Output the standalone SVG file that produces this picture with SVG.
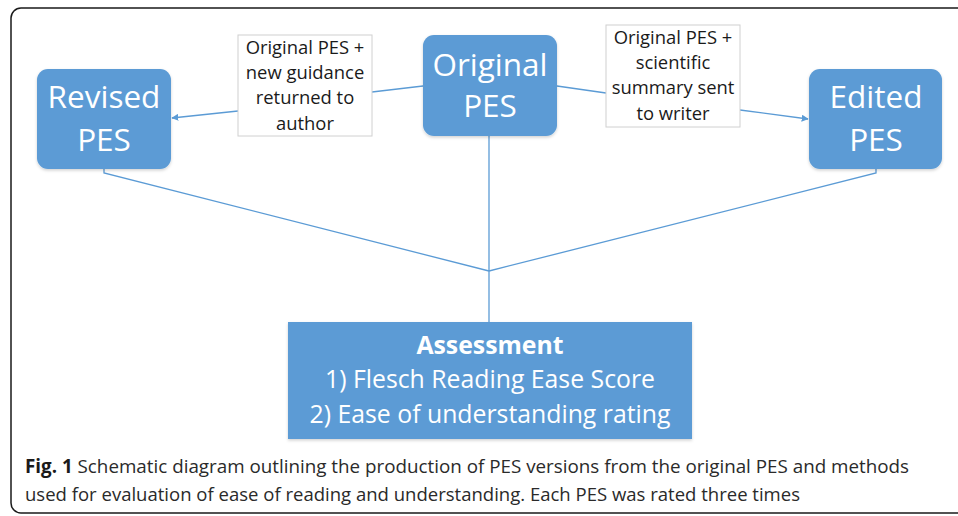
<svg xmlns="http://www.w3.org/2000/svg" width="958" height="516" viewBox="0 0 958 516">
<style>
.node{fill:#5b9bd5;}
.ntext{fill:#ffffff;font-family:"Open Sans","Noto Sans",sans-serif;font-size:31.5px;text-anchor:middle;}
.lbl{fill:#ffffff;stroke:#d0d0d0;stroke-width:1;}
.ltext{fill:#1a1a1a;font-family:"Open Sans","Noto Sans",sans-serif;font-size:18.4px;text-anchor:middle;}
.atext{fill:#ffffff;font-family:"Open Sans","Noto Sans",sans-serif;font-size:24.8px;text-anchor:middle;}
.conn{fill:none;stroke:#5b9bd5;stroke-width:1.3;}
.cap{fill:#2a2a2a;font-family:"Open Sans","Noto Sans",sans-serif;font-size:19px;}
</style>
<defs>
<marker id="arr" viewBox="0 0 10 10" refX="9" refY="5" markerWidth="7" markerHeight="7" orient="auto" markerUnits="userSpaceOnUse">
<path d="M0,0 L10,5 L0,10 z" fill="#5b9bd5"/>
</marker>
<filter id="sh" x="-10%" y="-10%" width="120%" height="130%">
<feDropShadow dx="0" dy="1.5" stdDeviation="1.5" flood-color="#000" flood-opacity="0.18"/>
</filter>
</defs>
<rect x="0" y="0" width="958" height="516" fill="#ffffff"/>
<rect x="11" y="8" width="970" height="505" rx="10" fill="none" stroke="#1a1a1a" stroke-width="1.5"/>

<g id="connectors">
<line class="conn" x1="423" y1="86" x2="372" y2="92"/>
<line class="conn" x1="238" y1="111" x2="172" y2="118" marker-end="url(#arr)"/>
<line class="conn" x1="557" y1="86" x2="606" y2="93"/>
<line class="conn" x1="740" y1="110" x2="808" y2="119" marker-end="url(#arr)"/>
<polyline class="conn" points="104,169 104,173 489,271"/>
<polyline class="conn" points="876,169 876,173 489,271"/>
<line class="conn" x1="489" y1="136" x2="489" y2="322"/>
</g>

<g id="revised">
<rect class="node" x="37" y="69" width="134" height="100" rx="11" filter="url(#sh)"/>
<text class="ntext" x="104" y="108">Revised</text>
<text class="ntext" x="104" y="151">PES</text>
</g>

<g id="original">
<rect class="node" x="423" y="35" width="134" height="101" rx="11" filter="url(#sh)"/>
<text class="ntext" x="490" y="76">Original</text>
<text class="ntext" x="490" y="117">PES</text>
</g>

<g id="edited">
<rect class="node" x="809" y="69" width="133" height="100" rx="11" filter="url(#sh)"/>
<text class="ntext" x="876" y="108">Edited</text>
<text class="ntext" x="876" y="151">PES</text>
</g>

<g id="label-left">
<rect class="lbl" x="238" y="35" width="134" height="101"/>
<text class="ltext" x="305" y="54">Original PES +</text>
<text class="ltext" x="305" y="79">new guidance</text>
<text class="ltext" x="305" y="104">returned to</text>
<text class="ltext" x="305" y="130">author</text>
</g>

<g id="label-right">
<rect class="lbl" x="606" y="25" width="134" height="102"/>
<text class="ltext" x="673" y="44">Original PES +</text>
<text class="ltext" x="673" y="69">scientific</text>
<text class="ltext" x="673" y="94">summary sent</text>
<text class="ltext" x="673" y="120">to writer</text>
</g>

<g id="assessment">
<rect class="node" x="288" y="322" width="404" height="117" filter="url(#sh)"/>
<text class="atext" x="490" y="354" font-weight="bold">Assessment</text>
<text class="atext" x="490" y="388">1) Flesch Reading Ease Score</text>
<text class="atext" x="490" y="423">2) Ease of understanding rating</text>
</g>

<g id="caption">
<text class="cap" x="25" y="473" textLength="884" lengthAdjust="spacingAndGlyphs"><tspan font-weight="bold" fill="#1a1a1a">Fig. 1</tspan> Schematic diagram outlining the production of PES versions from the original PES and methods</text>
<text class="cap" x="25" y="501" textLength="775" lengthAdjust="spacingAndGlyphs">used for evaluation of ease of reading and understanding. Each PES was rated three times</text>
</g>
</svg>
